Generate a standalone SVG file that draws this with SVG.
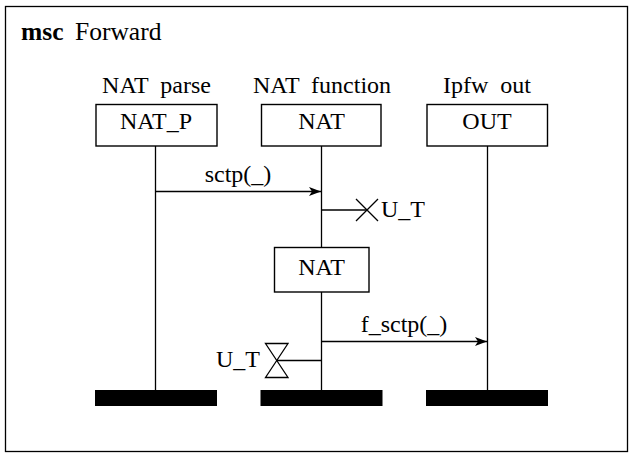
<svg xmlns="http://www.w3.org/2000/svg" width="635" height="457" viewBox="0 0 635 457">
  <style>
    text { font-family: 'Liberation Serif', serif; font-size: 24px; fill: #000; }
    .mid { text-anchor: middle; }
    .title { font-size: 25.5px; }
    .box { fill: #fff; stroke: #000; stroke-width: 1.4; }
    .line { stroke: #000; stroke-width: 1.3; fill: none; }
    .bar { fill: #000; }
  </style>
  <defs>
    <marker id="arrow" viewBox="0 0 12 10" refX="12" refY="5" markerWidth="12" markerHeight="10" markerUnits="userSpaceOnUse" orient="auto">
      <path d="M0,0.5 L12,5 L0,9.5 L3,5 Z" fill="#000"/>
    </marker>
  </defs>

  <rect width="635" height="457" fill="#fff"/>

  <!-- chart frame and title -->
  <g id="frame">
    <rect x="5.5" y="6.5" width="622" height="445" fill="none" stroke="#000" stroke-width="1.3"/>
    <text class="title" x="21" y="39.5"><tspan font-weight="bold">msc</tspan><tspan x="75">Forward</tspan></text>
  </g>

  <!-- lifelines and messages -->
  <g id="connectors">
    <line class="line" x1="155.5" y1="146" x2="155.5" y2="390"/>
    <line class="line" x1="321.5" y1="146" x2="321.5" y2="247"/>
    <line class="line" x1="321.5" y1="292" x2="321.5" y2="390"/>
    <line class="line" x1="487.5" y1="146" x2="487.5" y2="390"/>
    <line class="line" x1="155.5" y1="191.5" x2="321" y2="191.5" marker-end="url(#arrow)"/>
    <text class="mid" x="238" y="182">sctp(_)</text>
    <line class="line" x1="321.5" y1="341.5" x2="487" y2="341.5" marker-end="url(#arrow)"/>
    <text class="mid" x="404" y="332">f_sctp(_)</text>
  </g>

  <!-- instance NAT_P -->
  <g id="nat-parse">
    <text class="mid" x="156.5" y="92.5" word-spacing="6">NAT parse</text>
    <rect class="box" x="96" y="104.5" width="121" height="41.5"/>
    <text class="mid" x="156" y="128.5">NAT_P</text>
    <rect class="bar" x="95" y="390" width="122" height="16"/>
  </g>

  <!-- instance NAT -->
  <g id="nat-function">
    <text class="mid" x="322" y="92.5" word-spacing="6">NAT function</text>
    <rect class="box" x="261.5" y="104.5" width="119.5" height="41.5"/>
    <text class="mid" x="321.5" y="128.5">NAT</text>
    <rect class="bar" x="260.5" y="390" width="122" height="16"/>
  </g>

  <!-- instance OUT -->
  <g id="ipfw-out">
    <text class="mid" x="487" y="92.5" word-spacing="6">Ipfw out</text>
    <rect class="box" x="427" y="104.5" width="120.5" height="41.5"/>
    <text class="mid" x="487" y="128.5">OUT</text>
    <rect class="bar" x="426" y="390" width="122" height="16"/>
  </g>

  <!-- timer stop U_T -->
  <g id="timer-stop">
    <line class="line" x1="321.5" y1="210" x2="367" y2="210"/>
    <path class="line" d="M356,199 L378,221 M356,221 L378,199"/>
    <text x="381" y="217">U_T</text>
  </g>

  <!-- action NAT -->
  <g id="nat-action">
    <rect class="box" x="274.5" y="247.5" width="94.5" height="44.5"/>
    <text class="mid" x="321.5" y="275">NAT</text>
  </g>

  <!-- timer timeout U_T -->
  <g id="timer-timeout">
    <line class="line" x1="277" y1="360.5" x2="321.5" y2="360.5"/>
    <path class="line" d="M265.5,343.5 L288,343.5 L265.5,377.5 L288,377.5 Z"/>
    <text x="260" y="367" text-anchor="end">U_T</text>
  </g>
</svg>
